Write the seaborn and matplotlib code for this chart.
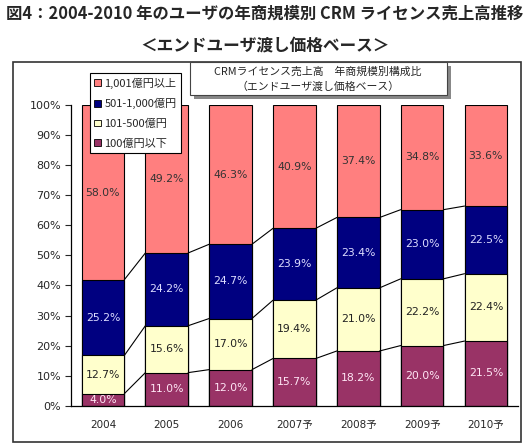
import numpy as np
import pandas as pd
import matplotlib.pyplot as plt
import seaborn as sns
from matplotlib.patches import Patch, Rectangle

# Data
years = ["2004", "2005", "2006", "2007予", "2008予", "2009予", "2010予"]
series_names = ["1,001億円以上", "501-1,000億円", "101-500億円", "100億円以下"]
under_100 = [4.0, 11.0, 12.0, 15.7, 18.2, 20.0, 21.5]
r101_500 = [12.7, 15.6, 17.0, 19.4, 21.0, 22.2, 22.4]
r501_1000 = [25.2, 24.2, 24.7, 23.9, 23.4, 23.0, 22.5]
over_1001 = [58.0, 49.2, 46.3, 40.9, 37.4, 34.8, 33.6]
yticks = [0, 10, 20, 30, 40, 50, 60, 70, 80, 90, 100]

sns.set_style("white")
plt.rcParams['font.family'] = ['DejaVu Sans', 'Noto Sans CJK JP']

# stack bottom -> top
layers = [under_100, r101_500, r501_1000, over_1001]
colors = ["#993366", "#FFFFCC", "#000080", "#FF7F7F"]
label_colors = ["#FFE6F5", "#222222", "#DDDDFF", "#333333"]
cum = np.cumsum(np.array(layers), axis=0)

df = pd.DataFrame({"year": years})
for k in range(4):
    df[f"c{k}"] = cum[k]

fig = plt.figure(figsize=(5.3, 4.47), dpi=100)
ax = fig.add_axes([0.134, 0.0924, 0.843, 0.6726])

w = 0.67
# draw tallest first so shorter cumulative bars sit on top
for k in [3, 2, 1, 0]:
    sns.barplot(data=df, x="year", y=f"c{k}", color=colors[k], saturation=1,
                width=w, edgecolor="black", linewidth=0.8, ax=ax)

# series lines between bars
for k in range(3):
    for i in range(len(years) - 1):
        ax.plot([i + w / 2, i + 1 - w / 2], [cum[k][i], cum[k][i + 1]],
                color="black", lw=0.8, zorder=1)

# segment labels
for k in range(4):
    for i in range(len(years)):
        bottom = cum[k - 1][i] if k > 0 else 0
        mid = bottom + layers[k][i] / 2
        ax.text(i, mid, f"{layers[k][i]:.1f}%", ha="center", va="center",
                fontsize=7.8, color=label_colors[k], zorder=5)

ax.set_xlim(-0.5, len(years) - 0.5)
ax.set_ylim(0, 100)
ax.set_yticks(yticks)
ax.set_yticklabels([f"{v}%" for v in yticks], fontsize=8)
ax.set_xticks(range(len(years)))
ax.set_xticklabels(years, fontsize=7.5)
ax.set_xticks(np.arange(0.5, len(years) - 1, 1), minor=True)
ax.tick_params(axis="x", which="major", length=0, pad=10)
ax.tick_params(axis="x", which="minor", direction="in", length=3, width=0.8)
ax.tick_params(axis="y", direction="out", length=4, width=0.8, left=True, pad=3)
ax.set_xlabel("")
ax.set_ylabel("")
for s in ["top", "right"]:
    ax.spines[s].set_visible(False)
for s in ["left", "bottom"]:
    ax.spines[s].set_color("black")
    ax.spines[s].set_linewidth(0.9)

# outer frame
fig.patches.append(Rectangle((13 / 530, 1 - 442 / 447), 508 / 530, 380 / 447,
                             transform=fig.transFigure, fill=False,
                             edgecolor="#333333", lw=1.2))

# chart title box with shadow
fig.patches.append(Rectangle((194 / 530, 1 - 99 / 447), 257 / 530, 33 / 447,
                             transform=fig.transFigure, facecolor="#888888",
                             edgecolor="none", zorder=6))
fig.patches.append(Rectangle((190 / 530, 1 - 95 / 447), 257 / 530, 33 / 447,
                             transform=fig.transFigure, facecolor="white",
                             edgecolor="#444444", lw=0.8, zorder=7))
fig.text(318 / 530, 1 - 72 / 447, "CRMライセンス売上高　年商規模別構成比",
         ha="center", va="center", fontsize=7.8,
         family=["Noto Sans CJK JP", "DejaVu Sans"], zorder=8)
fig.text(318 / 530, 1 - 87 / 447, "（エンドユーザ渡し価格ベース）",
         ha="center", va="center", fontsize=7.8,
         family=["Noto Sans CJK JP", "DejaVu Sans"], zorder=8)

# legend
handles = [Patch(facecolor=colors[k], edgecolor="black", lw=0.6) for k in [3, 2, 1, 0]]
leg = fig.legend(handles, series_names, loc="upper left",
                 bbox_to_anchor=(90 / 530, 1 - 73 / 447), frameon=True,
                 fancybox=False, edgecolor="black", framealpha=1,
                 handlelength=0.55, handleheight=0.55, handletextpad=0.35,
                 labelspacing=0.85, borderpad=0.4, borderaxespad=0,
                 prop={"family": ["Noto Sans CJK JP"], "size": 8.0})
leg.get_frame().set_linewidth(0.8)
leg.set_zorder(10)

# titles
fig.text(0.5, 1 - 14 / 447,
         "図4：2004-2010 年のユーザの年商規模別 CRM ライセンス売上高推移",
         ha="center", va="center", fontsize=11.8, fontweight="bold",
         family=["Noto Sans CJK JP", "DejaVu Sans"])
fig.text(0.5, 1 - 45 / 447, "＜エンドユーザ渡し価格ベース＞",
         ha="center", va="center", fontsize=12, fontweight="bold",
         family=["Noto Sans CJK JP", "DejaVu Sans"])

plt.savefig("out.png", dpi=100)
